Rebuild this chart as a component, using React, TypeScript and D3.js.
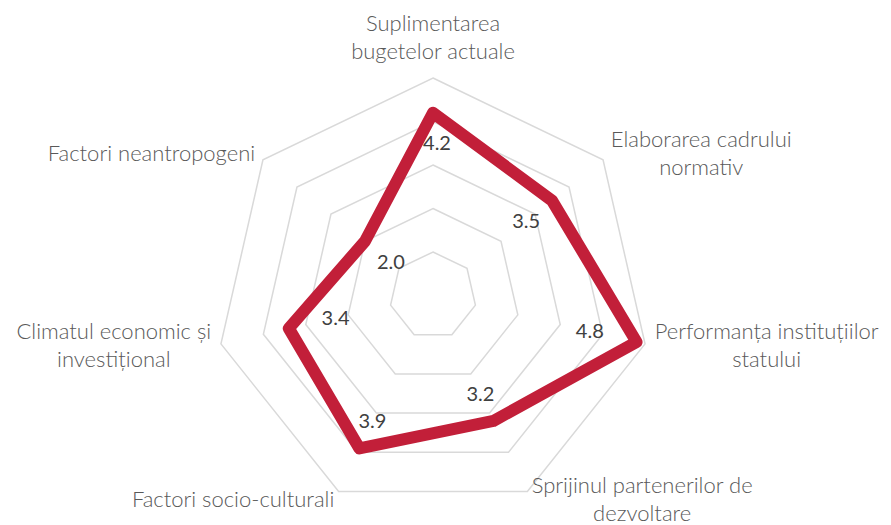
import React, { useEffect, useRef } from 'react';
import * as d3 from 'd3';

// axis labels, clockwise from the top ("\n" = line break)
const categories = [
  'Suplimentarea\nbugetelor actuale',
  'Elaborarea cadrului\nnormativ',
  'Performanța instituțiilor\nstatului',
  'Sprijinul partenerilor de\ndezvoltare',
  'Factori socio-culturali',
  'Climatul economic și\ninvestițional',
  'Factori neantropogeni',
];
const values = [4.2, 3.5, 4.8, 3.2, 3.9, 3.4, 2.0];
const ticks = [1, 2, 3, 4, 5];

const W = 891;
const H = 525;
const cx = 433;
const cy = 295.5;
const R = 217.5;
const FONT = 'Lato, "Open Sans", sans-serif';

export default function App() {
  const ref = useRef<SVGSVGElement>(null);

  useEffect(() => {
    const svg = d3.select(ref.current);
    svg.selectAll('*').remove();

    const n = categories.length;
    const angle = (i: number) => (i * 2 * Math.PI) / n;
    const r = d3.scaleLinear().domain([0, 5]).range([0, R]);

    const g = svg.append('g').attr('transform', `translate(${cx},${cy})`);

    // grid rings
    const ring = d3
      .lineRadial<number>()
      .angle((_, i) => angle(i))
      .radius((d) => r(d))
      .curve(d3.curveLinearClosed);

    g.selectAll('path.grid')
      .data(ticks)
      .join('path')
      .attr('class', 'grid')
      .attr('d', (t) => ring(categories.map(() => t)))
      .attr('fill', 'none')
      .attr('stroke', '#d9d9d9')
      .attr('stroke-width', 1.5);

    // series
    g.append('path')
      .attr('d', ring(values))
      .attr('fill', 'none')
      .attr('stroke', '#c21f39')
      .attr('stroke-width', 12)
      .attr('stroke-linejoin', 'round');

    // data labels, pushed inward along the spoke
    values.forEach((v, i) => {
      const a = angle(i);
      const ux = Math.sin(a);
      const uy = -Math.cos(a);
      const d = 30 + 22 * Math.pow(ux, 8);
      const x = r(v) * ux - ux * d + (Math.abs(ux) < 0.1 ? 4 : 0);
      const y = r(v) * uy - uy * d;
      g.append('text')
        .attr('x', x)
        .attr('y', y + 7)
        .attr('text-anchor', 'middle')
        .attr('font-family', FONT)
        .attr('font-size', 20)
        .attr('fill', '#404040')
        .text(d3.format('.1f')(v));
    });

    // category labels
    const lh = 28;
    categories.forEach((c, i) => {
      const a = angle(i);
      const s = Math.sin(a);
      const co = Math.cos(a);
      const vx = R * s;
      const vy = -R * co;
      const lines = c.split('\n');
      const t = g
        .append('text')
        .attr('font-family', FONT)
        .attr('font-size', 22)
        .attr('font-weight', 300)
        .attr('fill', '#595959')
        .attr('text-anchor', 'middle');
      const spans = lines.map((l) => t.append('tspan').text(l));
      const widths = spans.map((sp) => (sp.node() as SVGTextContentElement).getComputedTextLength());
      const bw = Math.max(...widths);

      let xc: number;
      if (Math.abs(s) < 0.1) xc = vx;
      else if (s > 0) xc = vx + 10 * s + bw / 2;
      else xc = vx + 10 * s - bw / 2;

      let firstBase: number;
      if (i === 0) {
        firstBase = vy - 19 - (lines.length - 1) * lh;
      } else {
        const yc = vy - 9 * co;
        firstBase = yc - ((lines.length - 1) * lh) / 2 + 7;
      }
      spans.forEach((sp, k) => sp.attr('x', xc).attr('y', firstBase + k * lh));
    });
  }, []);

  return (
    <svg
      ref={ref}
      width={W}
      height={H}
      style={{ position: 'absolute', left: 0, top: 0, background: '#fff' }}
    />
  );
}
